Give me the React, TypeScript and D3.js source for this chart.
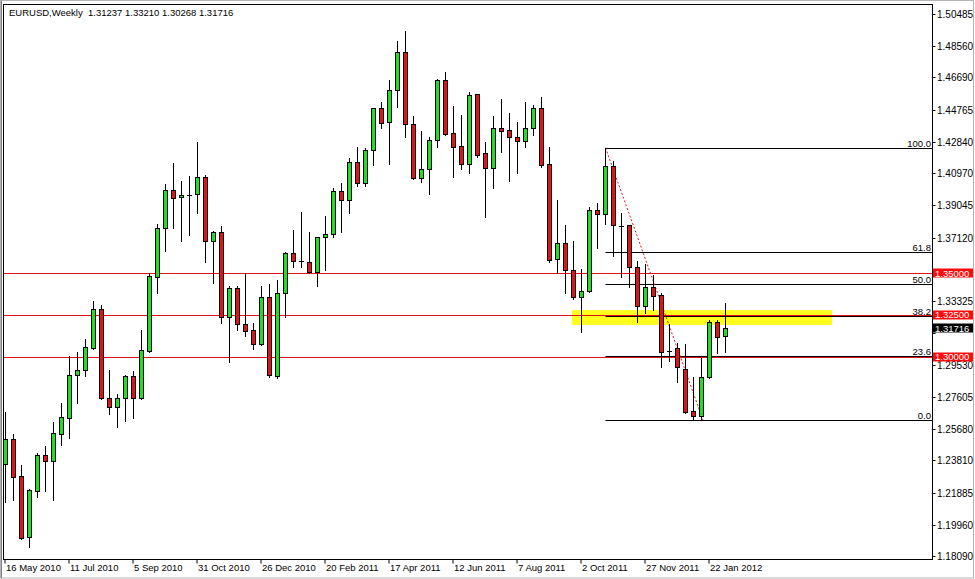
import { useEffect, useRef } from "react"
import * as d3 from "d3"

// weekly EURUSD candles, 16 May 2010 .. 5 Feb 2012
const opens = [
  1.2359, 1.2507, 1.2285, 1.1924, 1.2199, 1.2413, 1.2379, 1.254, 1.2632, 1.2889,
  1.2919, 1.3054, 1.3283, 1.2752, 1.2698, 1.2752, 1.2885, 1.2755, 1.3034, 1.3478,
  1.3771, 1.3995, 1.3953, 1.3965, 1.3971, 1.4072, 1.369, 1.3746, 1.3236, 1.3411,
  1.3196, 1.316, 1.3074, 1.3355, 1.2887, 1.3379, 1.3618, 1.3572, 1.3567, 1.3508,
  1.3714, 1.3732, 1.3991, 1.3935, 1.4166, 1.4037, 1.4234, 1.4485, 1.4401, 1.4592,
  1.482, 1.4389, 1.4067, 1.412, 1.4294, 1.4652, 1.4335, 1.4258, 1.4154, 1.4569,
  1.4216, 1.4126, 1.4365, 1.4353, 1.4312, 1.4288, 1.4365, 1.4485, 1.4152, 1.3582,
  1.3678, 1.3518, 1.3355, 1.3395, 1.3875, 1.3851, 1.414, 1.3784, 1.3786, 1.3535,
  1.3305, 1.3415, 1.3367, 1.3033, 1.305, 1.2925, 1.2676, 1.2646, 1.2881, 1.3206,
  1.31237,
]
const highs = [
  1.2671, 1.2538, 1.2353, 1.2209, 1.2425, 1.2466, 1.2608, 1.2722, 1.3004, 1.303,
  1.3104, 1.3333, 1.3309, 1.2921, 1.2776, 1.2891, 1.2915, 1.316, 1.3499, 1.3793,
  1.4032, 1.4156, 1.405, 1.408, 1.4282, 1.4086, 1.375, 1.3783, 1.3423, 1.3423,
  1.3499, 1.3203, 1.3423, 1.3435, 1.3459, 1.3625, 1.3757, 1.3867, 1.3744, 1.3716,
  1.3841, 1.4007, 1.4037, 1.4186, 1.4252, 1.425, 1.4487, 1.4521, 1.4652, 1.4887,
  1.4947, 1.4441, 1.4349, 1.4312, 1.4658, 1.47, 1.4499, 1.4445, 1.4581, 1.4571,
  1.4282, 1.4437, 1.454, 1.4455, 1.4401, 1.4521, 1.4505, 1.4551, 1.4255, 1.3937,
  1.3787, 1.3692, 1.3523, 1.3893, 1.3917, 1.4249, 1.4172, 1.3857, 1.3788, 1.3572,
  1.3554, 1.3489, 1.3379, 1.3194, 1.308, 1.3076, 1.2877, 1.2991, 1.322, 1.322,
  1.3321,
]
const lows = [
  1.2134, 1.2144, 1.1913, 1.1865, 1.2162, 1.2199, 1.2144, 1.2472, 1.2516, 1.2725,
  1.2885, 1.3048, 1.2747, 1.2658, 1.2582, 1.2618, 1.2636, 1.275, 1.3027, 1.3379,
  1.3634, 1.3771, 1.3694, 1.3728, 1.3861, 1.3568, 1.3443, 1.32, 1.297, 1.316,
  1.3124, 1.3046, 1.3068, 1.2881, 1.2871, 1.3239, 1.3538, 1.3538, 1.3499, 1.3425,
  1.3518, 1.3714, 1.3747, 1.3857, 1.4022, 1.4022, 1.4146, 1.4365, 1.4152, 1.4494,
  1.4315, 1.4062, 1.4046, 1.3971, 1.4255, 1.4325, 1.4072, 1.4124, 1.41, 1.4196,
  1.3837, 1.401, 1.4225, 1.4052, 1.41, 1.4255, 1.4325, 1.4136, 1.3568, 1.3499,
  1.3383, 1.3343, 1.3146, 1.3389, 1.3652, 1.3792, 1.3604, 1.3478, 1.3419, 1.3209,
  1.326, 1.3279, 1.294, 1.2976, 1.2851, 1.2662, 1.2622, 1.2622, 1.2871, 1.3021,
  1.30268,
]
const closes = [
  1.2507, 1.2283, 1.1915, 1.2203, 1.2413, 1.2379, 1.2542, 1.264, 1.2891, 1.2921,
  1.3056, 1.3283, 1.2752, 1.2698, 1.2752, 1.2885, 1.2755, 1.3038, 1.3483, 1.3771,
  1.3997, 1.3951, 1.3965, 1.3965, 1.4072, 1.369, 1.3746, 1.3236, 1.3411, 1.3194,
  1.3156, 1.3074, 1.3355, 1.2891, 1.3379, 1.3618, 1.3572, 1.357, 1.3508, 1.3714,
  1.3732, 1.3991, 1.3937, 1.4166, 1.4037, 1.4234, 1.4485, 1.4395, 1.4592, 1.482,
  1.4389, 1.4067, 1.412, 1.4294, 1.4654, 1.4333, 1.4255, 1.4154, 1.4563, 1.4208,
  1.4126, 1.4365, 1.4351, 1.4312, 1.4288, 1.4365, 1.4485, 1.4144, 1.3578, 1.3682,
  1.3518, 1.3355, 1.3395, 1.3875, 1.3851, 1.414, 1.3786, 1.3784, 1.3535, 1.3305,
  1.3415, 1.3365, 1.303, 1.3033, 1.294, 1.267, 1.2646, 1.2881, 1.3206, 1.312,
  1.31716,
]

const priceTicks = [
  1.50485, 1.4856, 1.4669, 1.44765, 1.4284, 1.4097, 1.39045, 1.3712, 1.3525,
  1.33325, 1.314, 1.2953, 1.27605, 1.2568, 1.2381, 1.21885, 1.1996, 1.1809,
]
const dateTicks = [
  "2010-05-16", "2010-07-11", "2010-09-05", "2010-10-31", "2010-12-26", "2011-02-20",
  "2011-04-17", "2011-06-12", "2011-08-07", "2011-10-02", "2011-11-27", "2012-01-22",
]
const dateLabels = [
  "16 May 2010", "11 Jul 2010", "5 Sep 2010", "31 Oct 2010", "26 Dec 2010", "20 Feb 2011",
  "17 Apr 2011", "12 Jun 2011", "7 Aug 2011", "2 Oct 2011", "27 Nov 2011", "22 Jan 2012",
]

// horizontal support / resistance lines
const hLines = [1.35, 1.325, 1.3]
// fibonacci retracement from the Oct 2011 high to the Jan 2012 low
const fibHigh = 1.4249
const fibLow = 1.2622
const fibLevels = [100.0, 61.8, 50.0, 38.2, 23.6, 0.0]
const fibStartWeek = 75
const fibEndWeek = 87
// highlighted zone
const zoneTop = 1.3279
const zoneBottom = 1.319

const title = "EURUSD,Weekly  1.31237 1.33210 1.30268 1.31716"

const W = 975
const H = 579
const FONT = "'Liberation Sans', Arial, sans-serif"
const GREEN = "#22dd22"
const RED = "#dd1515"
const LINE_RED = "#e0101c"

const App = () => {
  const svgRef = useRef<SVGSVGElement | null>(null)

  useEffect(() => {
    if (!svgRef.current) return
    const svg = d3.select(svgRef.current)
    svg.selectAll("*").remove()

    const frame = { left: 3.5, top: 4.5, right: 932.5, bottom: 559.5 }

    const weeks = d3.timeWeek.range(new Date(2010, 4, 16), new Date(2012, 1, 6))
    const candles = weeks.map((date, i) => ({
      date,
      open: opens[i],
      high: highs[i],
      low: lows[i],
      close: closes[i],
    }))

    const x = d3
      .scaleTime()
      .domain([new Date(2010, 4, 16), new Date(2012, 0, 22)])
      .range([5.5, 709.5])
    const y = d3.scaleLinear().domain([1.1809, 1.50485]).range([556, 14])
    const px = (v: number) => Math.round(y(v)) + 0.5
    const cx = (d: Date) => Math.round(x(d) - 0.5) + 0.5

    svg.append("rect").attr("width", W).attr("height", H).attr("fill", "#fff")

    // outer window border
    svg.append("rect")
      .attr("x", 0.5).attr("y", 0.5).attr("width", W - 2).attr("height", H - 1.5)
      .attr("fill", "none").attr("stroke", "#b4b4b4")
    svg.append("line")
      .attr("x1", 1.5).attr("x2", 1.5).attr("y1", 1).attr("y2", H - 1)
      .attr("stroke", "#808080")

    const plot = svg.append("g")

    // yellow zone
    plot.append("rect")
      .attr("x", 572).attr("width", 832 - 572)
      .attr("y", y(zoneTop)).attr("height", y(zoneBottom) - y(zoneTop))
      .attr("fill", "#ffff1e")

    // fibonacci levels
    const fibX0 = cx(weeks[fibStartWeek])
    plot.selectAll(".fib")
      .data(fibLevels)
      .join("line")
      .attr("class", "fib")
      .attr("x1", fibX0).attr("x2", frame.right)
      .attr("y1", (d) => px(fibLow + (fibHigh - fibLow) * d / 100))
      .attr("y2", (d) => px(fibLow + (fibHigh - fibLow) * d / 100))
      .attr("stroke", "#000")

    // red horizontal lines
    plot.selectAll(".hline")
      .data(hLines)
      .join("line")
      .attr("class", "hline")
      .attr("x1", frame.left).attr("x2", frame.right)
      .attr("y1", (d) => px(d)).attr("y2", (d) => px(d))
      .attr("stroke", LINE_RED)

    // fib trend line
    plot.append("line")
      .attr("x1", fibX0).attr("y1", y(fibHigh))
      .attr("x2", cx(weeks[fibEndWeek]) + 1.5).attr("y2", y(fibLow))
      .attr("stroke", LINE_RED)
      .attr("stroke-dasharray", "2,2")

    // candles
    const cg = plot.selectAll(".candle")
      .data(candles)
      .join("g")
      .attr("class", "candle")

    cg.append("line")
      .attr("x1", (d) => cx(d.date)).attr("x2", (d) => cx(d.date))
      .attr("y1", (d) => Math.round(y(d.high))).attr("y2", (d) => Math.round(y(d.low)) + 1)
      .attr("stroke", "#000")

    cg.filter((d) => Math.abs(d.open - d.close) >= 0.0003)
      .append("rect")
      .attr("x", (d) => cx(d.date) - 2)
      .attr("width", 4)
      .attr("y", (d) => px(Math.max(d.open, d.close)))
      .attr("height", (d) => Math.max(1, px(Math.min(d.open, d.close)) - px(Math.max(d.open, d.close))))
      .attr("fill", (d) => (d.close > d.open ? GREEN : RED))
      .attr("stroke", "#000")

    cg.filter((d) => Math.abs(d.open - d.close) < 0.0003)
      .append("line")
      .attr("x1", (d) => cx(d.date) - 2.5).attr("x2", (d) => cx(d.date) + 2.5)
      .attr("y1", (d) => px(d.close)).attr("y2", (d) => px(d.close))
      .attr("stroke", "#000")

    // fib labels
    plot.selectAll(".fibLabel")
      .data(fibLevels)
      .join("text")
      .attr("class", "fibLabel")
      .attr("x", 931)
      .attr("y", (d) => px(fibLow + (fibHigh - fibLow) * d / 100) - 2)
      .attr("text-anchor", "end")
      .attr("font-family", FONT).attr("font-size", 9.5)
      .attr("fill", "#000")
      .text((d) => d.toFixed(1))

    // frame
    svg.append("rect")
      .attr("x", frame.left).attr("y", frame.top)
      .attr("width", frame.right - frame.left).attr("height", frame.bottom - frame.top)
      .attr("fill", "none").attr("stroke", "#000")

    // price axis (labels hidden under a price box are left out)
    const boxes = [
      ...hLines.map((v) => ({ v, fill: "#ff0a0a" })),
      { v: closes[closes.length - 1], fill: "#000" },
    ]
    const freeTicks = priceTicks.filter((t) => boxes.every((b) => Math.abs(y(t) - y(b.v)) > 7))
    const ya = svg.append("g")
    ya.selectAll("line")
      .data(priceTicks)
      .join("line")
      .attr("x1", frame.right).attr("x2", frame.right + 3)
      .attr("y1", (d) => px(d)).attr("y2", (d) => px(d))
      .attr("stroke", "#000")
    ya.selectAll("text")
      .data(freeTicks)
      .join("text")
      .attr("x", 937)
      .attr("y", (d) => y(d) + 4)
      .attr("font-family", FONT).attr("font-size", 10)
      .attr("fill", "#000")
      .text((d) => d.toFixed(5))

    // price boxes
    const bg = svg.append("g")
    bg.selectAll("rect")
      .data(boxes)
      .join("rect")
      .attr("x", 933).attr("width", 40)
      .attr("y", (d) => Math.round(y(d.v)) - 4.5).attr("height", 9)
      .attr("fill", (d) => d.fill)
    bg.selectAll("text")
      .data(boxes)
      .join("text")
      .attr("x", 935)
      .attr("y", (d) => y(d.v) + 3.5)
      .attr("font-family", FONT).attr("font-size", 9.5)
      .attr("fill", "#fff")
      .text((d) => d.v.toFixed(5))

    // time axis
    const xa = svg.append("g")
    xa.selectAll("line")
      .data(dateTicks)
      .join("line")
      .attr("x1", (d) => cx(new Date(d + "T00:00:00")) - 0.5)
      .attr("x2", (d) => cx(new Date(d + "T00:00:00")) - 0.5)
      .attr("y1", frame.bottom).attr("y2", frame.bottom + 4)
      .attr("stroke", "#000")
    xa.selectAll("text")
      .data(dateTicks)
      .join("text")
      .attr("x", (d) => cx(new Date(d + "T00:00:00")) + 0.5)
      .attr("y", 571)
      .attr("font-family", FONT).attr("font-size", 9.5)
      .attr("fill", "#000")
      .text((_, i) => dateLabels[i])

    // title
    svg.append("text")
      .attr("x", 9).attr("y", 16)
      .attr("font-family", FONT).attr("font-size", 9.5)
      .attr("fill", "#000")
      .attr("xml:space", "preserve")
      .style("white-space", "pre")
      .text(title)
  }, [])

  return (
    <svg
      ref={svgRef}
      width={W}
      height={H}
      style={{ position: "absolute", left: 0, top: 0, display: "block" }}
    />
  )
}

export default App
